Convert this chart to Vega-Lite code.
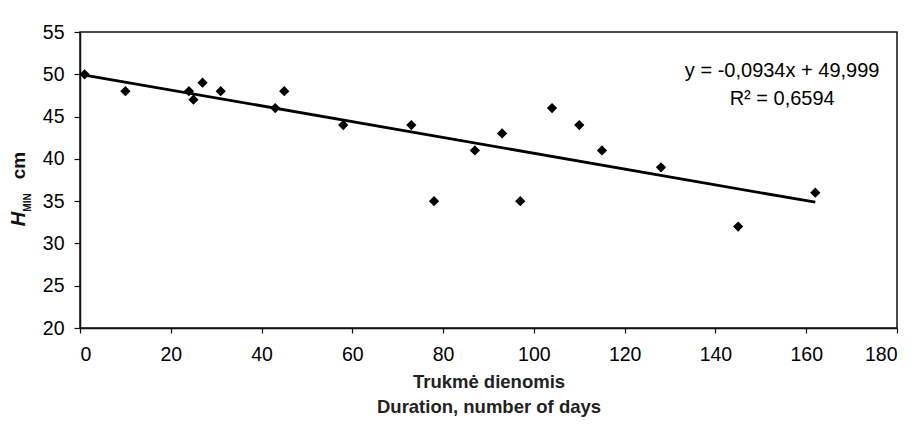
{
  "$schema": "https://vega.github.io/schema/vega-lite/v6.json",
  "autosize": "none",
  "width": 817,
  "height": 296,
  "padding": {"left": 80, "top": 32, "right": 21, "bottom": 100},
  "background": "white",
  "config": {
    "font": "Liberation Sans",
    "view": {"stroke": "#111", "strokeWidth": 1.5},
    "axis": {
      "labelFontSize": 19.5,
      "labelColor": "#000",
      "labelFont": "Liberation Sans",
      "tickColor": "#111",
      "domainColor": "#111",
      "domainWidth": 1.5,
      "tickWidth": 1.2,
      "tickSize": 5,
      "grid": false,
      "titleColor": "#111"
    }
  },
  "resolve": {"scale": {"x": "shared", "y": "shared"}, "axis": {"x": "independent", "y": "independent"}},
  "layer": [
    {
      "data": {
        "values": [
          {"days": 1, "h": 50}, {"days": 10, "h": 48}, {"days": 24, "h": 48},
          {"days": 25, "h": 47}, {"days": 27, "h": 49}, {"days": 31, "h": 48},
          {"days": 43, "h": 46}, {"days": 45, "h": 48}, {"days": 58, "h": 44},
          {"days": 73, "h": 44}, {"days": 78, "h": 35}, {"days": 87, "h": 41},
          {"days": 93, "h": 43}, {"days": 97, "h": 35}, {"days": 104, "h": 46},
          {"days": 110, "h": 44}, {"days": 115, "h": 41}, {"days": 128, "h": 39},
          {"days": 145, "h": 32}, {"days": 162, "h": 36}
        ]
      },
      "mark": {"type": "point", "shape": "diamond", "filled": true, "color": "#000", "opacity": 1, "size": 105},
      "encoding": {
        "x": {
          "field": "days", "type": "quantitative",
          "scale": {"domain": [0, 180], "nice": false, "zero": false},
          "axis": {
            "orient": "bottom",
            "values": [0, 20, 40, 60, 80, 100, 120, 140, 160, 180],
            "labelPadding": 12,
            "title": ["Trukmė dienomis", "Duration, number of days"],
            "titleFontSize": 18.5,
            "titleFontWeight": "bold",
            "titleColor": "#222",
            "titleLineHeight": 25,
            "titlePadding": 9
          }
        },
        "y": {
          "field": "h", "type": "quantitative",
          "scale": {"domain": [20, 55], "nice": false, "zero": false},
          "axis": {
            "orient": "left",
            "values": [20, 25, 30, 35, 40, 45, 50, 55],
            "labelPadding": 10,
            "tickSize": 6,
            "title": "H",
            "titleFontSize": 20,
            "titleFontWeight": "bold",
            "titleFontStyle": "italic",
            "titleAngle": -90,
            "titleAlign": "center",
            "titleBaseline": "alphabetic",
            "titleX": -55.5,
            "titleY": 186.5
          }
        }
      }
    },
    {
      "data": {"values": [{"days": 1, "h": 49.91}, {"days": 162, "h": 34.87}]},
      "mark": {"type": "line", "color": "#000", "strokeWidth": 2.8},
      "encoding": {
        "x": {"field": "days", "type": "quantitative", "axis": null},
        "y": {
          "field": "h", "type": "quantitative",
          "axis": {
            "orient": "left",
            "domain": false, "ticks": false, "labels": false, "grid": false,
            "title": "MIN",
            "titleFontSize": 10,
            "titleFontWeight": "bold",
            "titleAngle": -90,
            "titleAlign": "center",
            "titleBaseline": "alphabetic",
            "titleX": -50,
            "titleY": 170
          }
        }
      }
    },
    {
      "data": {"values": [{"label": "trend"}]},
      "mark": {"type": "text", "text": ["y = -0,0934x + 49,999", "R² = 0,6594"], "align": "center", "baseline": "middle", "fontSize": 20, "lineHeight": 28, "color": "#000"},
      "encoding": {
        "x": {"datum": 154.7, "type": "quantitative", "axis": null},
        "y": {
          "datum": 50.33, "type": "quantitative",
          "axis": {
            "orient": "left",
            "domain": false, "ticks": false, "labels": false, "grid": false,
            "title": "cm",
            "titleFontSize": 19,
            "titleFontWeight": "bold",
            "titleAngle": -90,
            "titleAlign": "center",
            "titleBaseline": "alphabetic",
            "titleX": -55.5,
            "titleY": 133
          }
        }
      }
    }
  ]
}
